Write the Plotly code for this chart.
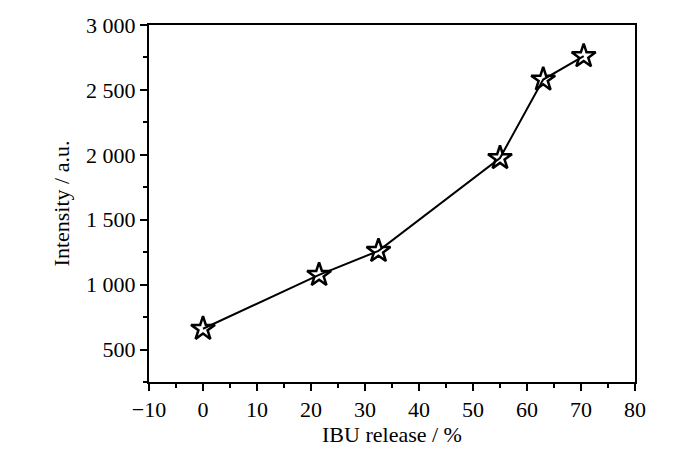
import plotly.graph_objects as go

release = [0, 21.5, 32.5, 55, 63, 70.5]
intensity = [660, 1075, 1260, 1975, 2580, 2760]

serif = "Liberation Serif, Times New Roman, serif"

fig = go.Figure()
fig.add_trace(go.Scatter(
    x=release, y=intensity, mode="lines+markers",
    line=dict(color="black", width=2),
    marker=dict(symbol="star-open", size=18, color="black", line=dict(width=2.5)),
    showlegend=False,
))

axis_common = dict(
    showline=True, linecolor="black", linewidth=2, mirror=True,
    ticks="outside", ticklen=7, tickwidth=1.5, tickcolor="black",
    showgrid=False, zeroline=False, automargin=False,
    tickfont=dict(family=serif, size=22, color="black"),
    title_font=dict(family=serif, size=22, color="black"),
)

fig.update_xaxes(
    range=[-10, 80], tick0=-10, dtick=10,
    minor=dict(ticks="outside", ticklen=4, tickcolor="black", dtick=5),
    title_text="IBU release / %", title_standoff=1,
    **axis_common,
)
fig.update_yaxes(
    range=[250, 3000], tick0=500, dtick=500, tickformat=",d",
    minor=dict(ticks="outside", ticklen=4, tickcolor="black", dtick=250, tick0=0),
    title_text="Intensity / a.u.", title_standoff=10,
    **axis_common,
)

# page body has an 8px margin, so the figure is shrunk to fit the window
fig.update_layout(
    width=684, height=452,
    margin=dict(l=141, r=57, t=17, b=78),
    font=dict(family=serif, color="black"),
    plot_bgcolor="white", paper_bgcolor="white",
    separators=". ",
)
fig.write_html("out.html")
